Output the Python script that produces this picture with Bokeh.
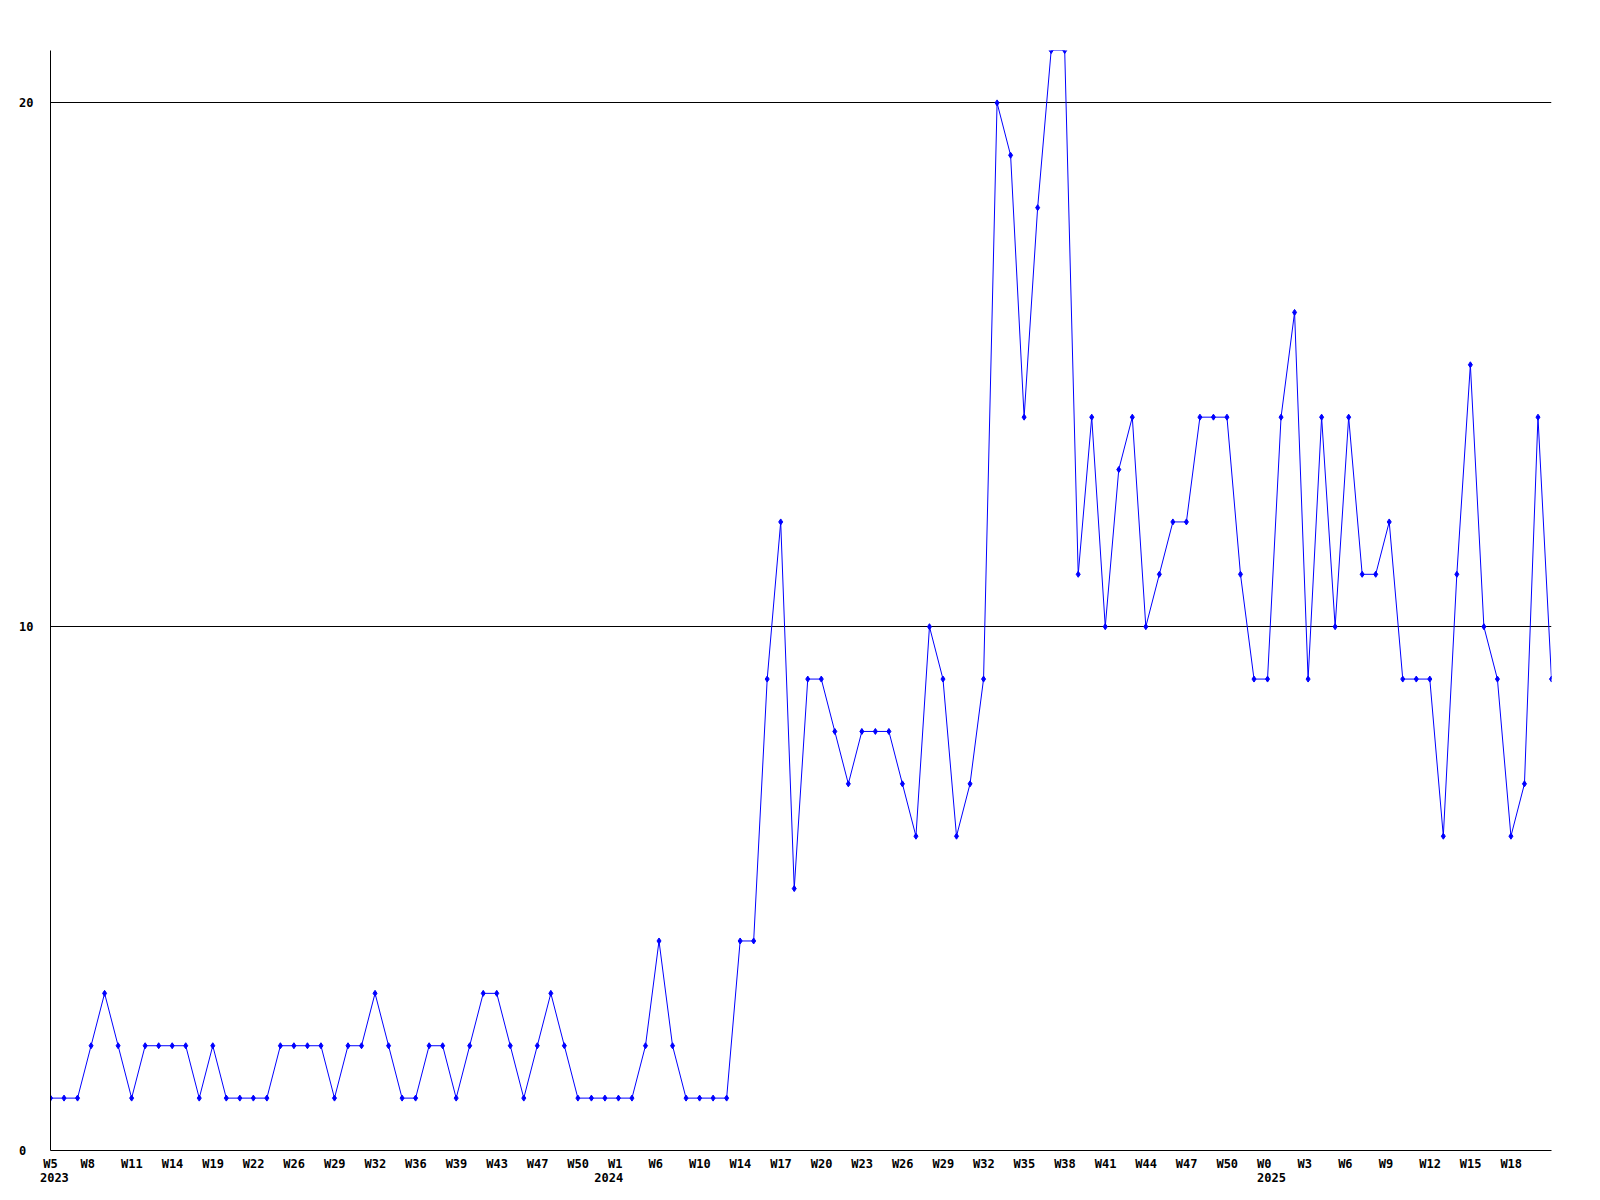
from bokeh.plotting import figure
from bokeh.models import Range1d, FixedTicker, LinearAxis, ColumnDataSource
from bokeh.embed import file_html
from bokeh.resources import INLINE

# ---- data ----
values = [1, 1, 1, 2, 3, 2, 1, 2, 2, 2, 2, 1, 2, 1, 1, 1, 1, 2, 2, 2,
          2, 1, 2, 2, 3, 2, 1, 1, 2, 2, 1, 2, 3, 3, 2, 1, 2, 3, 2, 1,
          1, 1, 1, 1, 2, 4, 2, 1, 1, 1, 1, 4, 4, 9, 12, 5, 9, 9, 8, 7,
          8, 8, 8, 7, 6, 10, 9, 6, 7, 9, 20, 19, 14, 18, 21, 21, 11, 14, 10, 13,
          14, 10, 11, 12, 12, 14, 14, 14, 11, 9, 9, 14, 16, 9, 14, 10, 14, 11, 11, 12,
          9, 9, 9, 6, 11, 15, 10, 9, 6, 7, 14, 9]
index = list(range(len(values)))

week_labels = ["W5", "W8", "W11", "W14", "W19", "W22", "W26", "W29", "W32", "W36",
               "W39", "W43", "W47", "W50", "W1", "W6", "W10", "W14", "W17", "W20",
               "W23", "W26", "W29", "W32", "W35", "W38", "W41", "W44", "W47", "W50",
               "W0", "W3", "W6", "W9", "W12", "W15", "W18"]
week_idx = [0, 3, 6, 9, 12, 15, 18, 21, 24, 27, 30, 33, 36, 39, 42, 45, 48, 51, 54, 57,
            60, 63, 66, 69, 72, 75, 78, 81, 84, 87, 90, 93, 96, 99, 102, 105, 108]
year_labels = ["2023", "2024", "2025"]
year_idx = [0, 41, 90]
y_ticks = [0, 10, 20]
y_tick_labels = ["0\u00a0", "10", "20"]

# ---- layout ----
W, H = 1600, 1200
ML, MR, MT, MB = 50, 49, 50, 50
frame_w = W - ML - MR
n = len(values)
px_per_idx = frame_w / (n - 1)
CHAR_W = 7.2
LEFT_SHIFT = 10.5
FONT = "DejaVu Sans Mono"


def shifted(idxs, labels):
    pos, over = [], {}
    for i, lab in zip(idxs, labels):
        p_ = i + (-LEFT_SHIFT + len(lab) * CHAR_W / 2) / px_per_idx
        p_ = round(max(0.0, p_), 3)
        pos.append(p_)
        over[p_] = lab
    return pos, over


p = figure(width=W, height=H, output_backend="svg", toolbar_location=None,
           x_range=Range1d(0, n - 1), y_range=Range1d(0, 21),
           min_border_left=ML, min_border_right=MR,
           min_border_top=MT, min_border_bottom=MB)
p.outline_line_color = None
p.background_fill_color = "white"
p.border_fill_color = "white"

src = ColumnDataSource(dict(x=index, y=values))
p.line("x", "y", source=src, line_color="#0000ff", line_width=1)
p.scatter("x", "y", source=src, marker="diamond", size=6,
          fill_color="#0000ff", line_color="#0000ff")

# grid
p.xgrid.visible = False
p.ygrid.ticker = FixedTicker(ticks=[10, 20])
p.ygrid.grid_line_color = "black"
p.ygrid.grid_line_alpha = 1.0
p.ygrid.grid_line_width = 1

# y axis
ya = p.yaxis[0]
ya.ticker = FixedTicker(ticks=y_ticks)
ya.major_label_overrides = {t: l for t, l in zip(y_ticks, y_tick_labels)}
ya.axis_line_color = "black"
ya.major_tick_line_color = None
ya.minor_tick_line_color = None
ya.major_tick_out = 0
ya.major_tick_in = 0
ya.major_label_standoff = 17
ya.major_label_text_font = FONT
ya.major_label_text_font_style = "bold"
ya.major_label_text_font_size = "12px"
ya.major_label_text_color = "black"

# x axis (weeks)
wpos, wover = shifted(week_idx, week_labels)
xa = p.xaxis[0]
xa.ticker = FixedTicker(ticks=wpos)
xa.major_label_overrides = wover
xa.axis_line_color = "black"
xa.major_tick_line_color = None
xa.minor_tick_line_color = None
xa.major_tick_out = 0
xa.major_tick_in = 0
xa.major_label_standoff = 6
xa.major_label_text_font = FONT
xa.major_label_text_font_style = "bold"
xa.major_label_text_font_size = "12px"
xa.major_label_text_color = "black"

# second x axis (years)
ypos, yover = shifted(year_idx, year_labels)
xa2 = LinearAxis(ticker=FixedTicker(ticks=ypos))
xa2.major_label_overrides = yover
xa2.axis_line_color = None
xa2.major_tick_line_color = None
xa2.minor_tick_line_color = None
xa2.major_tick_out = 0
xa2.major_tick_in = 0
xa2.major_label_standoff = -1
xa2.major_label_text_font = FONT
xa2.major_label_text_font_style = "bold"
xa2.major_label_text_font_size = "12px"
xa2.major_label_text_color = "black"
p.add_layout(xa2, "below")

open("out.html", "w").write(file_html(p, INLINE))
